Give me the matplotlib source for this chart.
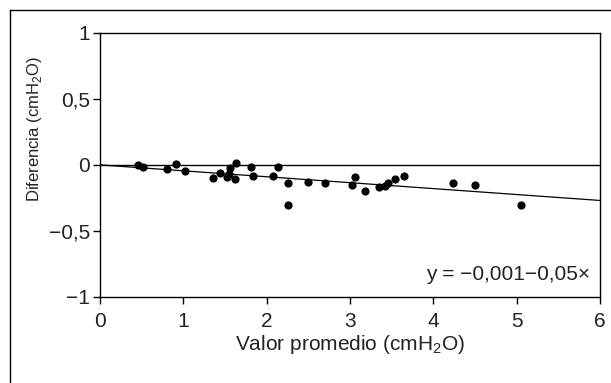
import numpy as np
import matplotlib.pyplot as plt
from matplotlib.lines import Line2D

plt.rcParams['font.family'] = ['Liberation Sans', 'DejaVu Sans']
plt.rcParams['mathtext.fontset'] = 'custom'
plt.rcParams['mathtext.rm'] = 'Liberation Sans'

# mean of the two methods (x) and difference between them (y)
mean_vals = [0.46, 0.52, 0.80, 0.91, 1.02, 1.36, 1.44, 1.52, 1.55, 1.56,
             1.62, 1.63, 1.81, 1.83, 2.08, 2.14, 2.25, 2.25, 2.50, 2.70,
             3.02, 3.06, 3.18, 3.35, 3.42, 3.45, 3.54, 3.65, 4.23, 4.50, 5.05]
diff_vals = [0.0, -0.016, -0.034, 0.006, -0.044, -0.097, -0.062, -0.092, -0.067, -0.021,
             -0.107, 0.011, -0.016, -0.087, -0.087, -0.016, -0.137, -0.306, -0.13, -0.137,
             -0.15, -0.092, -0.20, -0.17, -0.16, -0.135, -0.107, -0.082, -0.14, -0.15, -0.308]

# regression line end points
fit_x = [0, 6]
fit_y = [-0.001, -0.27]

xticks = [0, 1, 2, 3, 4, 5, 6]
yticks = [-1, -0.5, 0, 0.5, 1]
ytick_labels = ['\u22121', '\u22120,5', '0', '0,5', '1']

fig = plt.figure(figsize=(6.11, 3.83), dpi=100)
ax = fig.add_axes([100/611, 1 - 297/383, 500/611, (297 - 32.5)/383])

ax.axhline(0, color='black', lw=1.0)
ax.plot(fit_x, fit_y, color='black', lw=0.9)
ax.scatter(mean_vals, diff_vals, s=24, color='black', zorder=3)

ax.set_xlim(0, 6)
ax.set_ylim(-1, 1)
ax.set_xticks(xticks)
ax.set_xticklabels([str(t) for t in xticks])
ax.set_yticks(yticks)
ax.set_yticklabels(ytick_labels)
ax.tick_params(direction='out', length=5, width=1, labelsize=15, color='black',
               labelcolor='#222222')
ax.tick_params(axis='x', pad=6)
ax.tick_params(axis='y', pad=2)

for s in ax.spines.values():
    s.set_linewidth(1.0)
    s.set_color('black')

ax.set_xlabel('Valor promedio (cmH$_\\mathrm{2}$O)', fontsize=15, color='#222222', labelpad=1)
ax.set_ylabel('Diferencia (cmH$_\\mathrm{2}$O)', fontsize=12, color='#222222')
ax.yaxis.set_label_coords(-0.112, 0.635)

ax.text(0.98, 0.085, 'y = \u22120,001\u22120,05\u00d7', transform=ax.transAxes,
        ha='right', va='center', fontsize=15, color='#222222')

# outer frame of the figure (top and left edges)
fig.add_artist(Line2D([10/611, 10/611], [0, 1 - 10/383], color='black', lw=1.0,
                      transform=fig.transFigure))
fig.add_artist(Line2D([10/611, 1], [1 - 10/383, 1 - 10/383], color='black', lw=1.0,
                      transform=fig.transFigure))

fig.savefig('out.png', dpi=100)
